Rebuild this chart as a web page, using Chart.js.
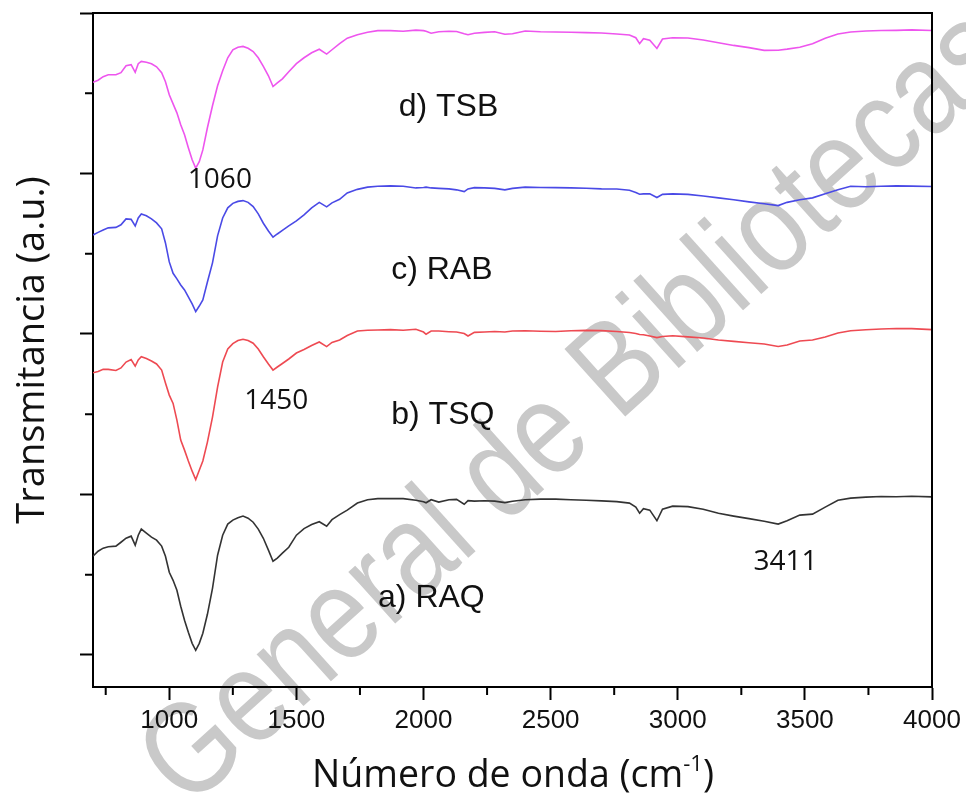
<!DOCTYPE html>
<html>
<head>
<meta charset="utf-8">
<script src="https://cdn.jsdelivr.net/npm/chart.js@4/dist/chart.umd.min.js"></script>
<style>
  body { margin: 0; background: #fff; }
  canvas { display: block; }
</style>
</head>
<body>
<canvas id="ftir" width="966" height="795"></canvas>
<script>
// FTIR spectra, wavenumber in cm-1, curves stacked with an offset
const wavenumber = [
  700, 720, 740, 760, 790, 810, 830, 850, 866, 878,
  890, 910, 930, 950, 970, 985, 1000, 1015, 1030, 1045,
  1060, 1075, 1090, 1104, 1118, 1132, 1150, 1170, 1190, 1210,
  1230, 1250, 1270, 1290, 1310, 1330, 1350, 1370, 1390, 1408,
  1425, 1445, 1470, 1500, 1530, 1560, 1590, 1619, 1640, 1670,
  1700, 1740, 1780, 1820, 1870, 1920, 1970, 2000, 2010, 2030,
  2060, 2100, 2130, 2160, 2175, 2200, 2240, 2280, 2320, 2350,
  2400, 2460, 2520, 2580, 2640, 2700, 2760, 2810, 2835, 2850,
  2865, 2890, 2918, 2940, 2980, 3040, 3100, 3160, 3220, 3280,
  3340, 3395, 3430, 3480, 3530, 3580, 3630, 3680, 3740, 3800,
  3860, 3920, 4000
];

const raq = [
  1.615, 1.646, 1.665, 1.674, 1.678, 1.702, 1.727, 1.740, 1.684, 1.746,
  1.784, 1.759, 1.734, 1.715, 1.678, 1.615, 1.515, 1.465, 1.403, 1.303,
  1.216, 1.141, 1.072, 1.029, 1.072, 1.135, 1.253, 1.415, 1.621, 1.746,
  1.815, 1.840, 1.855, 1.865, 1.852, 1.827, 1.784, 1.727, 1.653, 1.584,
  1.603, 1.634, 1.671, 1.746, 1.787, 1.812, 1.830, 1.802, 1.843, 1.874,
  1.902, 1.946, 1.967, 1.974, 1.974, 1.974, 1.964, 1.955, 1.948, 1.967,
  1.952, 1.967, 1.969, 1.939, 1.961, 1.958, 1.961, 1.958, 1.949, 1.958,
  1.967, 1.971, 1.971, 1.967, 1.964, 1.960, 1.955, 1.946, 1.921, 1.883,
  1.911, 1.902, 1.836, 1.908, 1.927, 1.924, 1.908, 1.883, 1.865, 1.849,
  1.833, 1.815, 1.836, 1.871, 1.877, 1.921, 1.964, 1.977, 1.983, 1.987,
  1.986, 1.989, 1.985
];

const tsq = [
  2.758, 2.766, 2.780, 2.779, 2.772, 2.788, 2.825, 2.841, 2.800, 2.838,
  2.858, 2.847, 2.831, 2.813, 2.775, 2.694, 2.619, 2.567, 2.463, 2.339,
  2.276, 2.208, 2.145, 2.093, 2.151, 2.208, 2.326, 2.482, 2.669, 2.825,
  2.906, 2.940, 2.959, 2.967, 2.959, 2.942, 2.906, 2.858, 2.813, 2.775,
  2.794, 2.816, 2.844, 2.881, 2.903, 2.928, 2.950, 2.921, 2.947, 2.962,
  2.990, 3.018, 3.023, 3.025, 3.027, 3.023, 3.029, 3.012, 2.998, 3.018,
  3.018, 3.014, 3.012, 3.003, 2.987, 3.010, 3.012, 3.015, 3.012, 3.018,
  3.020, 3.017, 3.015, 3.020, 3.022, 3.021, 3.015, 3.009, 3.003, 2.997,
  2.995, 2.987, 2.977, 2.984, 2.989, 2.982, 2.975, 2.962, 2.954, 2.945,
  2.937, 2.922, 2.931, 2.956, 2.962, 2.981, 3.006, 3.020, 3.026, 3.031,
  3.034, 3.033, 3.027
];

const rab = [
  3.617, 3.633, 3.648, 3.661, 3.664, 3.680, 3.717, 3.714, 3.673, 3.723,
  3.748, 3.736, 3.717, 3.692, 3.655, 3.567, 3.449, 3.378, 3.343, 3.305,
  3.274, 3.231, 3.187, 3.139, 3.174, 3.212, 3.324, 3.443, 3.611, 3.723,
  3.786, 3.814, 3.826, 3.831, 3.820, 3.794, 3.748, 3.690, 3.642, 3.603,
  3.623, 3.645, 3.673, 3.705, 3.742, 3.786, 3.820, 3.792, 3.817, 3.839,
  3.879, 3.901, 3.915, 3.920, 3.923, 3.920, 3.910, 3.913, 3.915, 3.910,
  3.907, 3.904, 3.898, 3.887, 3.904, 3.912, 3.910, 3.907, 3.898, 3.907,
  3.915, 3.913, 3.912, 3.910, 3.908, 3.904, 3.903, 3.895, 3.882, 3.871,
  3.873, 3.873, 3.850, 3.870, 3.873, 3.870, 3.860, 3.848, 3.836, 3.823,
  3.811, 3.800, 3.820, 3.836, 3.848, 3.873, 3.898, 3.920, 3.917, 3.920,
  3.923, 3.921, 3.919
];

const tsb = [
  4.568, 4.581, 4.603, 4.615, 4.615, 4.628, 4.671, 4.678, 4.630, 4.684,
  4.698, 4.693, 4.684, 4.665, 4.628, 4.572, 4.490, 4.434, 4.378, 4.303,
  4.241, 4.160, 4.085, 4.033, 4.073, 4.147, 4.285, 4.422, 4.547, 4.640,
  4.721, 4.771, 4.787, 4.792, 4.780, 4.760, 4.721, 4.667, 4.609, 4.542,
  4.565, 4.590, 4.634, 4.684, 4.721, 4.752, 4.774, 4.744, 4.771, 4.809,
  4.843, 4.865, 4.880, 4.890, 4.890, 4.886, 4.893, 4.890, 4.886, 4.874,
  4.883, 4.886, 4.885, 4.871, 4.865, 4.874, 4.879, 4.883, 4.868, 4.871,
  4.888, 4.883, 4.882, 4.880, 4.878, 4.875, 4.869, 4.863, 4.846, 4.809,
  4.840, 4.830, 4.779, 4.838, 4.846, 4.844, 4.832, 4.815, 4.798, 4.784,
  4.767, 4.768, 4.775, 4.787, 4.809, 4.843, 4.869, 4.882, 4.888, 4.891,
  4.892, 4.895, 4.891
];

const xMajor = [1000, 1500, 2000, 2500, 3000, 3500, 4000];
const xMinor = [750, 1250, 1750, 2250, 2750, 3250, 3750];
const yMajor = [1, 2, 3, 4, 5];
const yMinor = [1.5, 2.5, 3.5, 4.5];

// sample names and band positions written on the plot (data coordinates)
const sampleNames = ['a) RAQ', 'b) TSQ', 'c) RAB', 'd) TSB'];
const sampleNameAt = [[2031, 1.353], [2076, 2.495], [2072, 3.399], [2098, 4.416]];
const bands = ['1060', '1450', '3411'];
const bandAt = [[1199, 3.960], [1421, 2.582], [3424, 1.578]];

const pts = ys => wavenumber.map((w, i) => ({ x: w, y: ys[i] }));

const decorations = {
  id: 'decorations',
  // library watermark goes underneath everything else
  beforeDraw(chart) {
    const { ctx } = chart;
    ctx.save();
    ctx.translate(578, 410);
    ctx.rotate(-42 * Math.PI / 180);
    ctx.scale(0.84, 1);
    ctx.textAlign = 'center';
    ctx.textBaseline = 'middle';
    ctx.font = '132px "Liberation Sans", Arial, sans-serif';
    ctx.fillStyle = '#c9c9c9';
    ctx.fillText('General de Bibliotecas', 0, 0);
    ctx.restore();
  },
  afterDraw(chart) {
    const { ctx, chartArea: a, scales: { x, y } } = chart;
    ctx.save();

    // closing frame on top and right
    ctx.strokeStyle = '#000';
    ctx.lineWidth = 2;
    ctx.beginPath();
    ctx.moveTo(a.left, a.top);
    ctx.lineTo(a.right, a.top);
    ctx.lineTo(a.right, a.bottom + 1);
    ctx.stroke();

    // minor ticks, shorter than the major ones
    ctx.beginPath();
    xMinor.forEach(v => {
      const px = x.getPixelForValue(v);
      ctx.moveTo(px, a.bottom);
      ctx.lineTo(px, a.bottom + 8);
    });
    yMinor.forEach(v => {
      const py = y.getPixelForValue(v);
      ctx.moveTo(a.left, py);
      ctx.lineTo(a.left - 8, py);
    });
    ctx.stroke();

    ctx.fillStyle = '#111';
    ctx.textAlign = 'center';
    ctx.textBaseline = 'middle';

    ctx.font = '32px "Liberation Sans", Arial, sans-serif';
    sampleNames.forEach((t, i) => {
      ctx.fillText(t, x.getPixelForValue(sampleNameAt[i][0]), y.getPixelForValue(sampleNameAt[i][1]));
    });

    ctx.font = '28px "Open Sans", sans-serif';
    bands.forEach((t, i) => {
      ctx.fillText(t, x.getPixelForValue(bandAt[i][0]), y.getPixelForValue(bandAt[i][1]));
    });

    // axis titles
    ctx.textBaseline = 'alphabetic';
    ctx.font = '38px "Open Sans", sans-serif';
    ctx.save();
    ctx.translate(44, (a.top + a.bottom) / 2);
    ctx.rotate(-Math.PI / 2);
    ctx.fillText('Transmitancia (a.u.)', 0, 0);
    ctx.restore();

    const main = 'Número de onda (cm';
    const sup = '-1';
    const close = ')';
    const big = '37.5px "Open Sans", sans-serif';
    const small = '22px "Open Sans", sans-serif';
    ctx.font = big;
    const wMain = ctx.measureText(main).width;
    const wClose = ctx.measureText(close).width;
    ctx.font = small;
    const wSup = ctx.measureText(sup).width;
    let tx = 513 - (wMain + wSup + wClose) / 2;
    const base = 787;
    ctx.textAlign = 'left';
    ctx.font = big;
    ctx.fillText(main, tx, base);
    tx += wMain;
    ctx.font = small;
    ctx.fillText(sup, tx, base - 16);
    tx += wSup;
    ctx.font = big;
    ctx.fillText(close, tx, base);

    ctx.restore();
  }
};

new Chart(document.getElementById('ftir'), {
  type: 'line',
  data: {
    datasets: [
      { data: pts(raq), borderColor: '#333333' },
      { data: pts(tsq), borderColor: '#ee4a52' },
      { data: pts(rab), borderColor: '#4a4ae6' },
      { data: pts(tsb), borderColor: '#ee55ee' }
    ]
  },
  options: {
    responsive: false,
    animation: false,
    layout: { padding: { top: 13, right: 34, left: 0, bottom: 0 } },
    plugins: { legend: { display: false }, tooltip: { enabled: false } },
    elements: {
      point: { radius: 0 },
      line: { borderWidth: 1.6, tension: 0 }
    },
    scales: {
      x: {
        type: 'linear',
        min: 700,
        max: 4000,
        afterBuildTicks: s => { s.ticks = xMajor.map(v => ({ value: v })); },
        afterFit: s => { s.height = 108; },
        grid: { drawOnChartArea: false, tickLength: 13, tickWidth: 2, tickColor: '#000' },
        border: { color: '#000', width: 2 },
        ticks: {
          color: '#111',
          padding: 5,
          maxRotation: 0,
          autoSkip: false,
          font: { family: '"Liberation Sans", Arial, sans-serif', size: 26 },
          callback: v => String(v)
        }
      },
      y: {
        type: 'linear',
        min: 0.8,
        max: 5,
        afterBuildTicks: s => { s.ticks = yMajor.map(v => ({ value: v })); },
        afterFit: s => { s.width = 93; },
        grid: { drawOnChartArea: false, tickLength: 13, tickWidth: 2, tickColor: '#000' },
        border: { color: '#000', width: 2 },
        ticks: { display: false }
      }
    }
  },
  plugins: [decorations]
});
</script>
</body>
</html>
